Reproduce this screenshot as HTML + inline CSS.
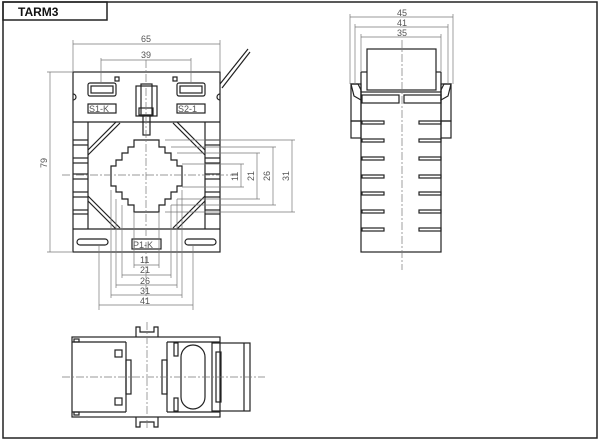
<!DOCTYPE html>
<html><head><meta charset="utf-8"><style>
html,body{margin:0;padding:0;background:#fff;width:600px;height:442px;overflow:hidden}
svg{display:block}
text{font-family:"Liberation Sans",sans-serif;font-size:9px;fill:#555}
</style></head><body>
<svg width="600" height="442" viewBox="0 0 600 442" xmlns="http://www.w3.org/2000/svg">
<g fill="none" stroke="#222" stroke-width="1.5">
<rect x="3" y="2" width="594" height="436"/>
<rect x="3" y="2" width="104" height="18"/>
</g>
<text x="18" y="16" style="font-size:12px;font-weight:bold;fill:#111">TARM3</text>

<!-- FRONT VIEW -->
<g fill="none" stroke="#222" stroke-width="1.2">
<rect x="73" y="72" width="147" height="180"/>
<line x1="73" y1="122" x2="220" y2="122"/>
<line x1="73" y1="229" x2="220" y2="229"/>
<line x1="88" y1="122" x2="88" y2="229"/>
<line x1="205" y1="122" x2="205" y2="229"/>
<rect x="88" y="83" width="28" height="13" rx="2"/>
<rect x="91" y="86" width="22" height="7"/>
<rect x="177" y="83" width="28" height="13" rx="2"/>
<rect x="180" y="86" width="22" height="7"/>
<rect x="115" y="77" width="4" height="4"/>
<rect x="173" y="77" width="4" height="4"/>
<rect x="88" y="104" width="28" height="9"/>
<rect x="177" y="104" width="28" height="9"/>
<rect x="136" y="86" width="21" height="30"/>
<rect x="141" y="84" width="11" height="32"/>
<rect x="139" y="108" width="14" height="7"/>
<rect x="143" y="115" width="7" height="20"/>
<rect x="132" y="239" width="29" height="10"/>
<path d="M80 245 H105 a3 3 0 0 0 0 -6 H80 a3 3 0 0 0 0 6z"/>
<path d="M188 245 H213 a3 3 0 0 0 0 -6 H188 a3 3 0 0 0 0 6z"/>
<path d="M73 94 a3 3 0 0 1 0 6"/><path d="M220 94 a3 3 0 0 0 0 6"/>
<line x1="73" y1="140" x2="88" y2="140"/><line x1="73" y1="145" x2="88" y2="145"/>
<line x1="73" y1="158" x2="88" y2="158"/><line x1="73" y1="163" x2="88" y2="163"/>
<line x1="73" y1="174" x2="88" y2="174"/><line x1="73" y1="179" x2="88" y2="179"/>
<line x1="73" y1="192" x2="88" y2="192"/><line x1="73" y1="197" x2="88" y2="197"/>
<line x1="73" y1="210" x2="88" y2="210"/><line x1="73" y1="214" x2="88" y2="214"/>
<line x1="205" y1="140" x2="220" y2="140"/><line x1="205" y1="145" x2="220" y2="145"/>
<line x1="205" y1="158" x2="220" y2="158"/><line x1="205" y1="163" x2="220" y2="163"/>
<line x1="205" y1="174" x2="220" y2="174"/><line x1="205" y1="179" x2="220" y2="179"/>
<line x1="205" y1="192" x2="220" y2="192"/><line x1="205" y1="197" x2="220" y2="197"/>
<line x1="205" y1="210" x2="220" y2="210"/><line x1="205" y1="214" x2="220" y2="214"/>
<line x1="88" y1="150" x2="116" y2="122"/><line x1="88" y1="155" x2="120" y2="123"/>
<line x1="205" y1="150" x2="177" y2="122"/><line x1="205" y1="155" x2="173" y2="123"/>
<line x1="88" y1="201" x2="116" y2="229"/><line x1="88" y1="196" x2="120" y2="228"/>
<line x1="205" y1="201" x2="177" y2="229"/><line x1="205" y1="196" x2="173" y2="228"/>
<polygon points="134,140 159,140 159,147 165,147 165,153 171,153 171,160 177,160 177,166 182,166 182,186 177,186 177,192 171,192 171,199 165,199 165,205 159,205 159,212 134,212 134,205 128,205 128,199 122,199 122,192 116,192 116,186 111,186 111,166 116,166 116,160 122,160 122,153 128,153 128,147 134,147"/>
<line x1="220" y1="84" x2="248" y2="49"/><line x1="222" y1="88" x2="250" y2="52"/>
</g>
<g stroke="#777" stroke-width="0.7" fill="none">
<line x1="146" y1="60" x2="146" y2="300" stroke-dasharray="8,2,2,2"/>
<line x1="62" y1="175" x2="240" y2="175" stroke-dasharray="8,2,2,2"/>
<line x1="73" y1="40" x2="73" y2="72"/><line x1="220" y1="40" x2="220" y2="72"/>
<line x1="73" y1="44" x2="220" y2="44"/>
<line x1="101" y1="58" x2="101" y2="83"/><line x1="191" y1="58" x2="191" y2="83"/>
<line x1="101" y1="60" x2="191" y2="60"/>
<line x1="47" y1="72" x2="73" y2="72"/><line x1="47" y1="252" x2="73" y2="252"/>
<line x1="50" y1="72" x2="50" y2="252"/>
<line x1="165" y1="140" x2="295" y2="140"/><line x1="165" y1="212" x2="295" y2="212"/>
<line x1="292" y1="140" x2="292" y2="212"/>
<line x1="171" y1="147" x2="276" y2="147"/><line x1="171" y1="205" x2="276" y2="205"/>
<line x1="273" y1="147" x2="273" y2="205"/>
<line x1="177" y1="153" x2="260" y2="153"/><line x1="177" y1="199" x2="260" y2="199"/>
<line x1="257" y1="153" x2="257" y2="199"/>
<line x1="182" y1="164" x2="244" y2="164"/><line x1="182" y1="187" x2="244" y2="187"/>
<line x1="241" y1="164" x2="241" y2="187"/>
<line x1="134" y1="212" x2="134" y2="268"/><line x1="159" y1="212" x2="159" y2="268"/>
<line x1="134" y1="265" x2="159" y2="265"/>
<line x1="122" y1="205" x2="122" y2="278"/><line x1="171" y1="205" x2="171" y2="278"/>
<line x1="122" y1="275" x2="171" y2="275"/>
<line x1="116" y1="199" x2="116" y2="288"/><line x1="177" y1="199" x2="177" y2="288"/>
<line x1="116" y1="285" x2="177" y2="285"/>
<line x1="111" y1="190" x2="111" y2="298"/><line x1="182" y1="190" x2="182" y2="298"/>
<line x1="111" y1="295" x2="182" y2="295"/>
<line x1="99" y1="245" x2="99" y2="310"/><line x1="193" y1="245" x2="193" y2="310"/>
<line x1="99" y1="305" x2="193" y2="305"/>
</g>
<g style="font-size:10px">
<text x="141" y="42">65</text><text x="141" y="58">39</text>
<text x="140" y="263">11</text><text x="140" y="273">21</text><text x="140" y="284">26</text><text x="140" y="294">31</text><text x="140" y="304">41</text>
<text transform="translate(47,168) rotate(-90)">79</text>
<text transform="translate(238,181) rotate(-90)">11</text>
<text transform="translate(254,181) rotate(-90)">21</text>
<text transform="translate(270,181) rotate(-90)">26</text>
<text transform="translate(289,181) rotate(-90)">31</text>
</g>
<g style="font-family:'Liberation Serif',serif;font-size:9px;fill:#222">
<text x="89" y="112">S1-K</text><text x="178" y="112">S2-1</text><text x="133" y="248">P1-K</text>
</g>

<!-- SIDE VIEW -->
<g fill="none" stroke="#222" stroke-width="1.2">
<rect x="361" y="92" width="80" height="160"/>
<rect x="367" y="49" width="69" height="41"/>
<line x1="361" y1="72" x2="367" y2="72"/><line x1="436" y1="72" x2="441" y2="72"/>
<line x1="361" y1="72" x2="361" y2="92"/><line x1="441" y1="72" x2="441" y2="92"/>
<rect x="362" y="95" width="37" height="8"/><rect x="404" y="95" width="37" height="8"/>
<path d="M351 84 L361 84 L361 121 L351 121z"/><path d="M351 84 L358 84 L361 90 L361 100 L354 96z"/>
<rect x="351" y="121" width="10" height="17"/>
<path d="M451 84 L441 84 L441 121 L451 121z"/><path d="M451 84 L444 84 L441 90 L441 100 L448 96z"/>
<rect x="441" y="121" width="10" height="17"/>
<rect x="362" y="121" width="22" height="3"/><rect x="419" y="121" width="22" height="3"/>
<rect x="362" y="139" width="22" height="3"/><rect x="419" y="139" width="22" height="3"/>
<rect x="362" y="157" width="22" height="3"/><rect x="419" y="157" width="22" height="3"/>
<rect x="362" y="175" width="22" height="3"/><rect x="419" y="175" width="22" height="3"/>
<rect x="362" y="192" width="22" height="3"/><rect x="419" y="192" width="22" height="3"/>
<rect x="362" y="210" width="22" height="3"/><rect x="419" y="210" width="22" height="3"/>
<rect x="362" y="228" width="22" height="3"/><rect x="419" y="228" width="22" height="3"/>
</g>
<g stroke="#777" stroke-width="0.7" fill="none">
<line x1="402" y1="40" x2="402" y2="270" stroke-dasharray="8,2,2,2"/>
<line x1="350" y1="14" x2="350" y2="84"/><line x1="453" y1="14" x2="453" y2="84"/><line x1="350" y1="17" x2="453" y2="17"/>
<line x1="355" y1="24" x2="355" y2="84"/><line x1="448" y1="24" x2="448" y2="84"/><line x1="355" y1="27" x2="448" y2="27"/>
<line x1="361" y1="34" x2="361" y2="72"/><line x1="441" y1="34" x2="441" y2="72"/><line x1="361" y1="37" x2="441" y2="37"/>
</g>
<g style="font-size:10px"><text x="397" y="16">45</text><text x="397" y="26">41</text><text x="397" y="36">35</text></g>

<!-- BOTTOM VIEW -->
<g fill="none" stroke="#222" stroke-width="1.2">
<rect x="72" y="337" width="148" height="80"/>
<line x1="72" y1="342" x2="126" y2="342"/><line x1="72" y1="412" x2="126" y2="412"/>
<line x1="126" y1="342" x2="126" y2="412"/>
<rect x="74" y="339" width="5" height="3"/><rect x="74" y="412" width="5" height="3"/>
<rect x="115" y="350" width="7" height="7"/><rect x="115" y="398" width="7" height="7"/>
<rect x="126" y="360" width="5" height="34"/>
<rect x="162" y="360" width="5" height="34"/>
<line x1="167" y1="342" x2="220" y2="342"/><line x1="167" y1="412" x2="220" y2="412"/>
<line x1="167" y1="342" x2="167" y2="412"/>
<rect x="174" y="343" width="4" height="13"/><rect x="174" y="398" width="4" height="13"/>
<rect x="181" y="345" width="24" height="64" rx="12"/>
<rect x="212" y="343" width="38" height="68"/>
<line x1="244" y1="343" x2="244" y2="411"/>
<rect x="216" y="352" width="5" height="50"/>
<path d="M136 337 V327 H140 V332 H154 V327 H158 V337"/>
<path d="M136 417 V427 H140 V422 H154 V427 H158 V417"/>
</g>
<g stroke="#777" stroke-width="0.7" fill="none">
<line x1="62" y1="377" x2="265" y2="377" stroke-dasharray="8,2,2,2"/>
<line x1="147" y1="322" x2="147" y2="430" stroke-dasharray="8,2,2,2"/>
</g>
</svg>
</body></html>
